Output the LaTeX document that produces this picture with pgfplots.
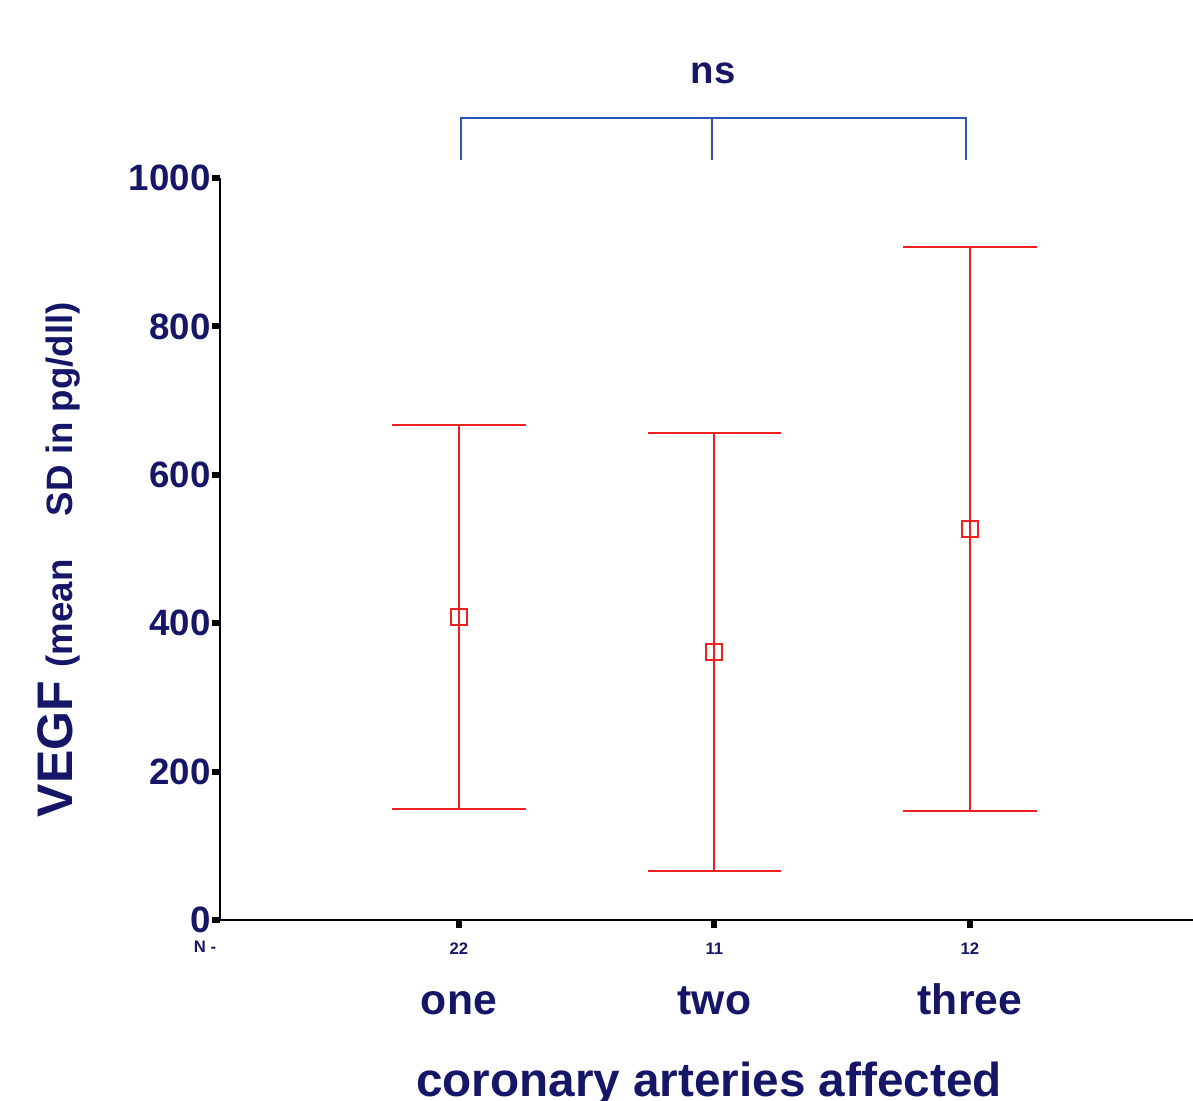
\documentclass[border=0pt]{standalone}
\usepackage{pgfplots}
\pgfplotsset{compat=1.18}
\usepackage{fontspec}
\setmainfont{Liberation Sans}
\definecolor{navy}{RGB}{22,22,105}
\definecolor{ebred}{RGB}{238,32,32}
\definecolor{brblue}{RGB}{45,85,180}
\begin{document}
\begin{tikzpicture}
\useasboundingbox (0,0) rectangle (1193*0.3pt,-1101*0.3pt);
\begin{axis}[
  at={(220*0.3pt,-920*0.3pt)}, anchor=south west,
  scale only axis, width=291.9pt, height=222.6pt,
  xmin=0.065, xmax=3.873, ymin=0, ymax=1000,
  axis x line=bottom, axis y line=left,
  axis line style={-, line width=0.8pt, black},
  xtick={1,2,3}, xticklabels={22,11,12},
  ytick={0,200,400,600,800,1000},
  /pgf/number format/assume math mode=true,
  /pgf/number format/1000 sep={},
  xticklabel style={font=\fontsize{5}{6}\selectfont\bfseries, text=navy, yshift=-1pt},
  yticklabel style={font=\fontsize{11}{12}\selectfont\bfseries, text=navy, xshift=3pt},
  tick style={black, line width=1.8pt},
  tick align=outside, major tick length=2.3pt,
  clip=false,
]
\addplot[color=ebred, only marks, mark=square, mark size=2.4pt, mark options={line width=0.6pt},
  error bars/.cd, y dir=both, y explicit,
  error bar style={line width=0.6pt, color=ebred},
  error mark options={mark size=20pt, line width=0.6pt, color=ebred, rotate=90}]
  coordinates {
  (1,408) +- (0,259)
  (2,361) +- (0,295)
  (3,527) +- (0,380)
  };
\node[font=\fontsize{12.8}{14}\selectfont\bfseries, text=navy, anchor=base] at (axis cs:1,-128) {one};
\node[font=\fontsize{12.8}{14}\selectfont\bfseries, text=navy, anchor=base] at (axis cs:2,-128) {two};
\node[font=\fontsize{12.8}{14}\selectfont\bfseries, text=navy, anchor=base] at (axis cs:3,-128) {three};
\end{axis}
\node[font=\fontsize{5}{6}\selectfont\bfseries, text=navy] at (205*0.3pt,-947*0.3pt) {N -};
\node[font=\fontsize{14.3}{16}\selectfont\bfseries, text=navy, anchor=base] at (709*0.3pt,-1096*0.3pt) {coronary arteries affected};
\node[font=\fontsize{11.5}{13}\selectfont\bfseries, text=navy, anchor=base] at (713*0.3pt,-83*0.3pt) {ns};
\draw[brblue, line width=0.75pt] (461*0.3pt,-160*0.3pt) -- (461*0.3pt,-118*0.3pt) -- (966*0.3pt,-118*0.3pt) -- (966*0.3pt,-160*0.3pt);
\draw[brblue, line width=0.75pt] (712*0.3pt,-118*0.3pt) -- (712*0.3pt,-160*0.3pt);
\node[rotate=90, anchor=base west, text=navy, inner sep=0pt] at (72*0.3pt,-818*0.3pt)
  {\fontsize{15}{17}\selectfont\bfseries VEGF \fontsize{11}{13}\selectfont(mean\hspace{13pt}SD in pg/dll)};
\end{tikzpicture}
\end{document}
